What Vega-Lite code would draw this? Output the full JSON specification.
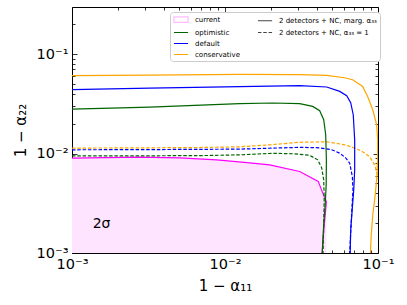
{
  "$schema": "https://vega.github.io/schema/vega-lite/v6.json",
  "width": 306,
  "height": 246,
  "autosize": {"type": "none"},
  "padding": {"left": 72, "top": 7, "right": 29, "bottom": 52},
  "background": "white",
  "config": {
    "view": {"stroke": "black", "strokeWidth": 1},
    "font": "DejaVu Sans",
    "axis": {
      "domain": false,
      "grid": false,
      "labelFont": "DejaVu Sans",
      "labelFontSize": 14.5,
      "labelColor": "black",
      "titleFont": "DejaVu Sans",
      "titleFontSize": 15,
      "titleFontWeight": "normal",
      "titleColor": "black",
      "tickColor": "black",
      "tickWidth": 0.8
    }
  },
  "datasets": {
    "curves": [
      {"series": "current", "type": "marg", "order": 1, "x": 0.001, "y": 0.00899},
      {"series": "current", "type": "marg", "order": 2, "x": 0.002772, "y": 0.0092},
      {"series": "current", "type": "marg", "order": 3, "x": 0.00506, "y": 0.00905},
      {"series": "current", "type": "marg", "order": 4, "x": 0.00883, "y": 0.00864},
      {"series": "current", "type": "marg", "order": 5, "x": 0.0145, "y": 0.00806},
      {"series": "current", "type": "marg", "order": 6, "x": 0.01959, "y": 0.00769},
      {"series": "current", "type": "marg", "order": 7, "x": 0.03077, "y": 0.00659},
      {"series": "current", "type": "marg", "order": 8, "x": 0.04067, "y": 0.00525},
      {"series": "current", "type": "marg", "order": 9, "x": 0.04351, "y": 0.00402},
      {"series": "current", "type": "marg", "order": 10, "x": 0.04599, "y": 0.00326},
      {"series": "current", "type": "marg", "order": 11, "x": 0.04517, "y": 0.00241},
      {"series": "current", "type": "marg", "order": 12, "x": 0.04436, "y": 0.001827},
      {"series": "current", "type": "marg", "order": 13, "x": 0.04318, "y": 0.001},

      {"series": "conservative", "type": "marg", "order": 1, "x": 0.001, "y": 0.0606},
      {"series": "conservative", "type": "marg", "order": 2, "x": 0.00322, "y": 0.0613},
      {"series": "conservative", "type": "marg", "order": 3, "x": 0.01248, "y": 0.06245},
      {"series": "conservative", "type": "marg", "order": 4, "x": 0.03077, "y": 0.062},
      {"series": "conservative", "type": "marg", "order": 5, "x": 0.0462, "y": 0.061},
      {"series": "conservative", "type": "marg", "order": 6, "x": 0.0606, "y": 0.0578},
      {"series": "conservative", "type": "marg", "order": 7, "x": 0.0683, "y": 0.0552},
      {"series": "conservative", "type": "marg", "order": 8, "x": 0.0794, "y": 0.0473},
      {"series": "conservative", "type": "marg", "order": 9, "x": 0.0857, "y": 0.0372},
      {"series": "conservative", "type": "marg", "order": 10, "x": 0.0924, "y": 0.02755},
      {"series": "conservative", "type": "marg", "order": 11, "x": 0.098, "y": 0.01945},
      {"series": "conservative", "type": "marg", "order": 12, "x": 0.0995, "y": 0.01374},
      {"series": "conservative", "type": "marg", "order": 13, "x": 0.0995, "y": 0.00864},
      {"series": "conservative", "type": "marg", "order": 14, "x": 0.098, "y": 0.00544},
      {"series": "conservative", "type": "marg", "order": 15, "x": 0.0951, "y": 0.00342},
      {"series": "conservative", "type": "marg", "order": 16, "x": 0.0924, "y": 0.00241},
      {"series": "conservative", "type": "marg", "order": 17, "x": 0.0903, "y": 0.001518},
      {"series": "conservative", "type": "marg", "order": 18, "x": 0.0892, "y": 0.001},

      {"series": "default", "type": "marg", "order": 1, "x": 0.001, "y": 0.0438},
      {"series": "default", "type": "marg", "order": 2, "x": 0.00322, "y": 0.0454},
      {"series": "default", "type": "marg", "order": 3, "x": 0.01248, "y": 0.047},
      {"series": "default", "type": "marg", "order": 4, "x": 0.03077, "y": 0.0481},
      {"series": "default", "type": "marg", "order": 5, "x": 0.0462, "y": 0.0466},
      {"series": "default", "type": "marg", "order": 6, "x": 0.0562, "y": 0.0421},
      {"series": "default", "type": "marg", "order": 7, "x": 0.06244, "y": 0.0381},
      {"series": "default", "type": "marg", "order": 8, "x": 0.0663, "y": 0.0324},
      {"series": "default", "type": "marg", "order": 9, "x": 0.0689, "y": 0.02453},
      {"series": "default", "type": "marg", "order": 10, "x": 0.0704, "y": 0.01374},
      {"series": "default", "type": "marg", "order": 11, "x": 0.0704, "y": 0.00685},
      {"series": "default", "type": "marg", "order": 12, "x": 0.0694, "y": 0.00431},
      {"series": "default", "type": "marg", "order": 13, "x": 0.0678, "y": 0.00271},
      {"series": "default", "type": "marg", "order": 14, "x": 0.0663, "y": 0.001704},
      {"series": "default", "type": "marg", "order": 15, "x": 0.0658, "y": 0.001},

      {"series": "optimistic", "type": "marg", "order": 1, "x": 0.001, "y": 0.028},
      {"series": "optimistic", "type": "marg", "order": 2, "x": 0.00322, "y": 0.0292},
      {"series": "optimistic", "type": "marg", "order": 3, "x": 0.01248, "y": 0.0317},
      {"series": "optimistic", "type": "marg", "order": 4, "x": 0.0205, "y": 0.0322},
      {"series": "optimistic", "type": "marg", "order": 5, "x": 0.03077, "y": 0.0317},
      {"series": "optimistic", "type": "marg", "order": 6, "x": 0.03743, "y": 0.02974},
      {"series": "optimistic", "type": "marg", "order": 7, "x": 0.04159, "y": 0.0269},
      {"series": "optimistic", "type": "marg", "order": 8, "x": 0.04417, "y": 0.02185},
      {"series": "optimistic", "type": "marg", "order": 9, "x": 0.04551, "y": 0.01543},
      {"series": "optimistic", "type": "marg", "order": 10, "x": 0.04599, "y": 0.00864},
      {"series": "optimistic", "type": "marg", "order": 11, "x": 0.04585, "y": 0.00484},
      {"series": "optimistic", "type": "marg", "order": 12, "x": 0.04517, "y": 0.00304},
      {"series": "optimistic", "type": "marg", "order": 13, "x": 0.04417, "y": 0.001914},
      {"series": "optimistic", "type": "marg", "order": 14, "x": 0.04318, "y": 0.001},

      {"series": "conservative", "type": "fixed", "order": 1, "x": 0.001, "y": 0.01133},
      {"series": "conservative", "type": "fixed", "order": 2, "x": 0.00322, "y": 0.01141},
      {"series": "conservative", "type": "fixed", "order": 3, "x": 0.00683, "y": 0.01149},
      {"series": "conservative", "type": "fixed", "order": 4, "x": 0.01248, "y": 0.01168},
      {"series": "conservative", "type": "fixed", "order": 5, "x": 0.01959, "y": 0.012235},
      {"series": "conservative", "type": "fixed", "order": 6, "x": 0.03077, "y": 0.01297},
      {"series": "conservative", "type": "fixed", "order": 7, "x": 0.0462, "y": 0.01312},
      {"series": "conservative", "type": "fixed", "order": 8, "x": 0.0606, "y": 0.012235},
      {"series": "conservative", "type": "fixed", "order": 9, "x": 0.0715, "y": 0.01128},
      {"series": "conservative", "type": "fixed", "order": 10, "x": 0.0794, "y": 0.0104},
      {"series": "conservative", "type": "fixed", "order": 11, "x": 0.0883, "y": 0.00926},
      {"series": "conservative", "type": "fixed", "order": 12, "x": 0.0951, "y": 0.00769},
      {"series": "conservative", "type": "fixed", "order": 13, "x": 0.0995, "y": 0.0061},
      {"series": "conservative", "type": "fixed", "order": 14, "x": 0.1026, "y": 0.00431},

      {"series": "default", "type": "fixed", "order": 1, "x": 0.001, "y": 0.0109},
      {"series": "default", "type": "fixed", "order": 2, "x": 0.00322, "y": 0.01095},
      {"series": "default", "type": "fixed", "order": 3, "x": 0.01248, "y": 0.01107},
      {"series": "default", "type": "fixed", "order": 4, "x": 0.03077, "y": 0.01154},
      {"series": "default", "type": "fixed", "order": 5, "x": 0.04159, "y": 0.01141},
      {"series": "default", "type": "fixed", "order": 6, "x": 0.04983, "y": 0.0109},
      {"series": "default", "type": "fixed", "order": 7, "x": 0.0562, "y": 0.01009},
      {"series": "default", "type": "fixed", "order": 8, "x": 0.0615, "y": 0.00905},
      {"series": "default", "type": "fixed", "order": 9, "x": 0.0653, "y": 0.008},
      {"series": "default", "type": "fixed", "order": 10, "x": 0.068, "y": 0.00583},
      {"series": "default", "type": "fixed", "order": 11, "x": 0.0686, "y": 0.00431},
      {"series": "default", "type": "fixed", "order": 12, "x": 0.0673, "y": 0.00253},
      {"series": "default", "type": "fixed", "order": 13, "x": 0.0663, "y": 0.00159},
      {"series": "default", "type": "fixed", "order": 14, "x": 0.0653, "y": 0.001},

      {"series": "optimistic", "type": "fixed", "order": 1, "x": 0.001, "y": 0.00948},
      {"series": "optimistic", "type": "fixed", "order": 2, "x": 0.00322, "y": 0.00948},
      {"series": "optimistic", "type": "fixed", "order": 3, "x": 0.00759, "y": 0.00955},
      {"series": "optimistic", "type": "fixed", "order": 4, "x": 0.01248, "y": 0.0097},
      {"series": "optimistic", "type": "fixed", "order": 5, "x": 0.0205, "y": 0.01005},
      {"series": "optimistic", "type": "fixed", "order": 6, "x": 0.02855, "y": 0.00993},
      {"series": "optimistic", "type": "fixed", "order": 7, "x": 0.03578, "y": 0.00959},
      {"series": "optimistic", "type": "fixed", "order": 8, "x": 0.04036, "y": 0.00864},
      {"series": "optimistic", "type": "fixed", "order": 9, "x": 0.04285, "y": 0.00718},
      {"series": "optimistic", "type": "fixed", "order": 10, "x": 0.04417, "y": 0.00544},
      {"series": "optimistic", "type": "fixed", "order": 11, "x": 0.0445, "y": 0.00342},
      {"series": "optimistic", "type": "fixed", "order": 12, "x": 0.04417, "y": 0.001914},
      {"series": "optimistic", "type": "fixed", "order": 13, "x": 0.0437, "y": 0.001}
    ],
    "labels": [
      {"text": "2σ", "x": 0.00156, "y": 0.00196}
    ],
    "legendEntries": [
      {"entry": "current"},
      {"entry": "optimistic"},
      {"entry": "default"},
      {"entry": "conservative"},
      {"entry": "2 detectors + NC, marg. α₃₃"},
      {"entry": "2 detectors + NC, α₃₃ = 1"},
      {"entry": "blank1"},
      {"entry": "blank2"}
    ]
  },
  "resolve": {
    "axis": {"x": "independent", "y": "independent"}
  },
  "layer": [
    {
      "data": {"name": "curves"},
      "transform": [{"filter": "datum.series === 'current' && datum.order <= 10"}],
      "mark": {"type": "area", "color": "#ffe4ff", "opacity": 1, "clip": true},
      "encoding": {
        "x": {
          "field": "x", "type": "quantitative",
          "scale": {"type": "log", "domain": [0.001, 0.1], "nice": false},
          "axis": {
            "orient": "bottom",
            "title": "1 − α₁₁",
            "titlePadding": 6,
            "values": [0.001, 0.002, 0.003, 0.004, 0.005, 0.006, 0.007, 0.008, 0.009, 0.01, 0.02, 0.03, 0.04, 0.05, 0.06, 0.07, 0.08, 0.09, 0.1],
            "labelExpr": "abs(datum.value - 0.001) < 1e-9 ? '10⁻³' : abs(datum.value - 0.01) < 1e-9 ? '10⁻²' : abs(datum.value - 0.1) < 1e-9 ? '10⁻¹' : ''",
            "tickSize": {"condition": {"test": "abs(datum.value - 0.001) < 1e-9 || abs(datum.value - 0.01) < 1e-9 || abs(datum.value - 0.1) < 1e-9", "value": -5}, "value": -3},
            "labelPadding": 9,
            "labelFlush": false,
            "labelOverlap": false
          }
        },
        "y": {
          "field": "y", "type": "quantitative",
          "scale": {"type": "log", "domain": [0.001, 0.297], "nice": false},
          "axis": {
            "orient": "left",
            "title": "1 − α₂₂",
            "titlePadding": 8,
            "values": [0.001, 0.002, 0.003, 0.004, 0.005, 0.006, 0.007, 0.008, 0.009, 0.01, 0.02, 0.03, 0.04, 0.05, 0.06, 0.07, 0.08, 0.09, 0.1, 0.2],
            "labelExpr": "abs(datum.value - 0.001) < 1e-9 ? '10⁻³' : abs(datum.value - 0.01) < 1e-9 ? '10⁻²' : abs(datum.value - 0.1) < 1e-9 ? '10⁻¹' : ''",
            "tickSize": {"condition": {"test": "abs(datum.value - 0.001) < 1e-9 || abs(datum.value - 0.01) < 1e-9 || abs(datum.value - 0.1) < 1e-9", "value": -5}, "value": -3},
            "labelPadding": 9,
            "labelFlush": false,
            "labelOverlap": false
          }
        },
        "y2": {"datum": 0.001}
      }
    },
    {
      "data": {"name": "curves"},
      "transform": [{"filter": "datum.series === 'current'"}],
      "mark": {"type": "line", "color": "#ff00ff", "strokeWidth": 1.2, "clip": true},
      "encoding": {
        "x": {
          "field": "x", "type": "quantitative",
          "axis": {
            "orient": "top", "title": null, "labels": false,
            "values": [0.001, 0.002, 0.003, 0.004, 0.005, 0.006, 0.007, 0.008, 0.009, 0.01, 0.02, 0.03, 0.04, 0.05, 0.06, 0.07, 0.08, 0.09, 0.1],
            "tickSize": {"condition": {"test": "abs(datum.value - 0.001) < 1e-9 || abs(datum.value - 0.01) < 1e-9 || abs(datum.value - 0.1) < 1e-9", "value": -5}, "value": -3}
          }
        },
        "y": {
          "field": "y", "type": "quantitative",
          "axis": {
            "orient": "right", "title": null, "labels": false,
            "values": [0.001, 0.002, 0.003, 0.004, 0.005, 0.006, 0.007, 0.008, 0.009, 0.01, 0.02, 0.03, 0.04, 0.05, 0.06, 0.07, 0.08, 0.09, 0.1, 0.2],
            "tickSize": {"condition": {"test": "abs(datum.value - 0.001) < 1e-9 || abs(datum.value - 0.01) < 1e-9 || abs(datum.value - 0.1) < 1e-9", "value": -5}, "value": -3}
          }
        },
        "order": {"field": "order", "type": "quantitative"}
      }
    },
    {
      "data": {"name": "curves"},
      "transform": [{"filter": "datum.series !== 'current' && datum.type === 'fixed'"}],
      "mark": {"type": "line", "strokeWidth": 1.2, "strokeDash": [3.5, 1.8], "clip": true},
      "encoding": {
        "x": {"field": "x", "type": "quantitative", "axis": null},
        "y": {"field": "y", "type": "quantitative", "axis": null},
        "color": {
          "field": "series", "type": "nominal",
          "scale": {"domain": ["optimistic", "default", "conservative"], "range": ["#006400", "#0000ff", "#ffa500"]},
          "legend": null
        },
        "order": {"field": "order", "type": "quantitative"}
      }
    },
    {
      "data": {"name": "curves"},
      "transform": [{"filter": "datum.series !== 'current' && datum.type === 'marg'"}],
      "mark": {"type": "line", "strokeWidth": 1.2, "clip": true},
      "encoding": {
        "x": {"field": "x", "type": "quantitative", "axis": null},
        "y": {"field": "y", "type": "quantitative", "axis": null},
        "color": {
          "field": "series", "type": "nominal",
          "legend": null
        },
        "order": {"field": "order", "type": "quantitative"}
      }
    },
    {
      "data": {"name": "labels"},
      "mark": {"type": "text", "fontSize": 14, "font": "DejaVu Sans", "color": "black"},
      "encoding": {
        "x": {"field": "x", "type": "quantitative", "axis": null},
        "y": {"field": "y", "type": "quantitative", "axis": null},
        "text": {"field": "text"}
      }
    },
    {
      "data": {"name": "legendEntries"},
      "mark": {"type": "point", "opacity": 0, "size": 50, "strokeWidth": 1.2},
      "encoding": {
        "shape": {
          "field": "entry", "type": "nominal",
          "scale": {
            "domain": ["current", "optimistic", "default", "conservative", "2 detectors + NC, marg. α₃₃", "2 detectors + NC, α₃₃ = 1", "blank1", "blank2"],
            "range": ["M-1,-0.8H3V0.8H-1Z", "M-1,0H3", "M-1,0H3", "M-1,0H3", "M-1,0H3", "M-1,0H3", "M-1,0H3", "M-1,0H3"]
          },
          "legend": {
            "title": null,
            "orient": "none",
            "legendX": 98,
            "legendY": 5,
            "columns": 2,
            "columnPadding": 15,
            "rowPadding": 3,
            "padding": 3,
            "strokeColor": "#cccccc",
            "fillColor": "white",
            "cornerRadius": 3,
            "labelFont": "DejaVu Sans",
            "labelFontSize": 7,
            "labelColor": "black",
            "labelOffset": 13,
            "symbolSize": 50,
            "symbolStrokeWidth": 1.2,
            "labelExpr": "indexof(datum.value, 'blank') >= 0 ? '' : datum.label"
          }
        },
        "stroke": {
          "field": "entry", "type": "nominal",
          "scale": {
            "domain": ["current", "optimistic", "default", "conservative", "2 detectors + NC, marg. α₃₃", "2 detectors + NC, α₃₃ = 1", "blank1", "blank2"],
            "range": ["#ffbbff", "#006400", "#0000ff", "#ffa500", "#444444", "#444444", "transparent", "transparent"]
          },
          "legend": {"title": null}
        },
        "fill": {
          "field": "entry", "type": "nominal",
          "scale": {
            "domain": ["current", "optimistic", "default", "conservative", "2 detectors + NC, marg. α₃₃", "2 detectors + NC, α₃₃ = 1", "blank1", "blank2"],
            "range": ["#ffbbff", "transparent", "transparent", "transparent", "transparent", "transparent", "transparent", "transparent"]
          },
          "legend": {"title": null}
        },
        "strokeDash": {
          "field": "entry", "type": "nominal",
          "scale": {
            "domain": ["current", "optimistic", "default", "conservative", "2 detectors + NC, marg. α₃₃", "2 detectors + NC, α₃₃ = 1", "blank1", "blank2"],
            "range": [[1, 0], [1, 0], [1, 0], [1, 0], [1, 0], [3.5, 1.8], [1, 0], [1, 0]]
          },
          "legend": {"title": null}
        }
      }
    }
  ]
}
